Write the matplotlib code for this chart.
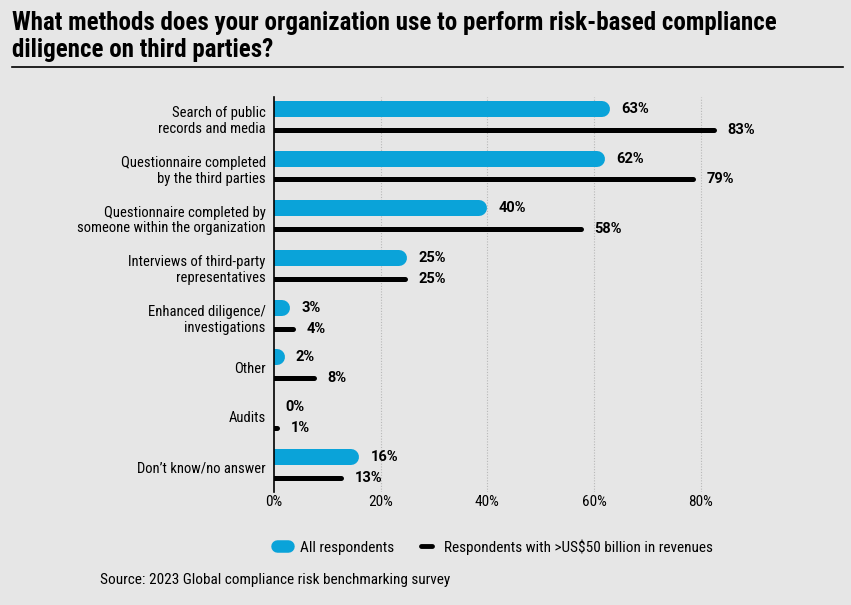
import matplotlib.pyplot as plt
from matplotlib.lines import Line2D

categories = ["Search of public\nrecords and media",
              "Questionnaire completed\nby the third parties",
              "Questionnaire completed by\nsomeone within the organization",
              "Interviews of third-party\nrepresentatives",
              "Enhanced diligence/\ninvestigations",
              "Other",
              "Audits",
              "Don\u2019t know/no answer"]
all_resp = [63, 62, 40, 25, 3, 2, 0, 16]
large_resp = [83, 79, 58, 25, 4, 8, 1, 13]
xticks = [0, 20, 40, 60, 80]
xticklabels = ["0%", "20%", "40%", "60%", "80%"]

BG = "#e6e6e6"
BLUE = "#0aa3d9"
plt.rcParams["font.family"] = ["Roboto Condensed", "DejaVu Sans"]
VALFONT = ["Roboto", "DejaVu Sans"]

W, H = 851, 605
fig = plt.figure(figsize=(W / 100, H / 100), dpi=100)
fig.patch.set_facecolor(BG)

# axes geometry in pixels
x0, x1 = 274, 754
y_top, y_bot = 97, 492
ax = fig.add_axes([x0 / W, 1 - y_bot / H, (x1 - x0) / W, (y_bot - y_top) / H])
ax.set_facecolor(BG)
xmax = 90
ax.set_xlim(0, xmax)
ax.set_ylim(7.51, -0.44)
px_per_unit = (x1 - x0) / xmax

blue_h = 16   # px
black_h = 5   # px
blue_off = -0.2
black_off = 0.22

for i, (a, b) in enumerate(zip(all_resp, large_resp)):
    yb = i + blue_off
    yk = i + black_off
    if a > 0:
        r = blue_h / 2 / px_per_unit
        ax.plot([-5, max(a - r, 0)], [yb, yb], color=BLUE, lw=blue_h * 0.72,
                solid_capstyle="round", zorder=3)
    if b > 0:
        r = black_h / 2 / px_per_unit
        ax.plot([-5, max(b - r, 0)], [yk, yk], color="black", lw=black_h * 0.72,
                solid_capstyle="round", zorder=3)
    ax.annotate(f"{a}%", (a, yb), xytext=(8, 0), textcoords="offset points",
                ha="left", va="center", fontsize=10.5, fontweight="bold", family=VALFONT)
    ax.annotate(f"{b}%", (b, yk), xytext=(8, 0), textcoords="offset points",
                ha="left", va="center", fontsize=10.5, fontweight="bold", family=VALFONT)

ax.set_yticks(range(len(categories)))
ax.set_yticklabels(categories, fontsize=10.5, linespacing=1.15)
ax.tick_params(axis="y", length=0, pad=6)
ax.set_xticks(xticks)
ax.set_xticklabels(xticklabels, fontsize=11)
ax.tick_params(axis="x", length=0, pad=2)
for x in xticks[1:]:
    ax.axvline(x, color="#b8b8b8", lw=0.8, ls=(0, (1, 1.5)), zorder=1)
for s in ["top", "right", "bottom"]:
    ax.spines[s].set_visible(False)
ax.spines["left"].set_linewidth(1.2)
ax.spines["left"].set_zorder(4)

fig.text(12 / W, 1 - 11 / H, "What methods does your organization use to perform risk-based compliance\ndiligence on third parties?",
         ha="left", va="top", fontsize=18, fontweight="bold", linespacing=1.15)
fig.add_artist(Line2D([12 / W, 843 / W], [1 - 67 / H, 1 - 67 / H], color="black", lw=1.2))

handles = [Line2D([], [], color=BLUE, lw=9, solid_capstyle="round"),
           Line2D([], [], color="black", lw=3.5, solid_capstyle="round")]
fig.legend(handles, ["All respondents", "Respondents with >US$50 billion in revenues"],
           loc="center", bbox_to_anchor=(495 / W, 1 - 547 / H), ncol=2, frameon=False,
           fontsize=11, handlelength=0.7, columnspacing=1.8, handletextpad=0.8)

fig.text(100 / W, 1 - 580 / H, "Source: 2023 Global compliance risk benchmarking survey",
         ha="left", va="center", fontsize=11)

fig.savefig("out.png", dpi=100, facecolor=BG)
